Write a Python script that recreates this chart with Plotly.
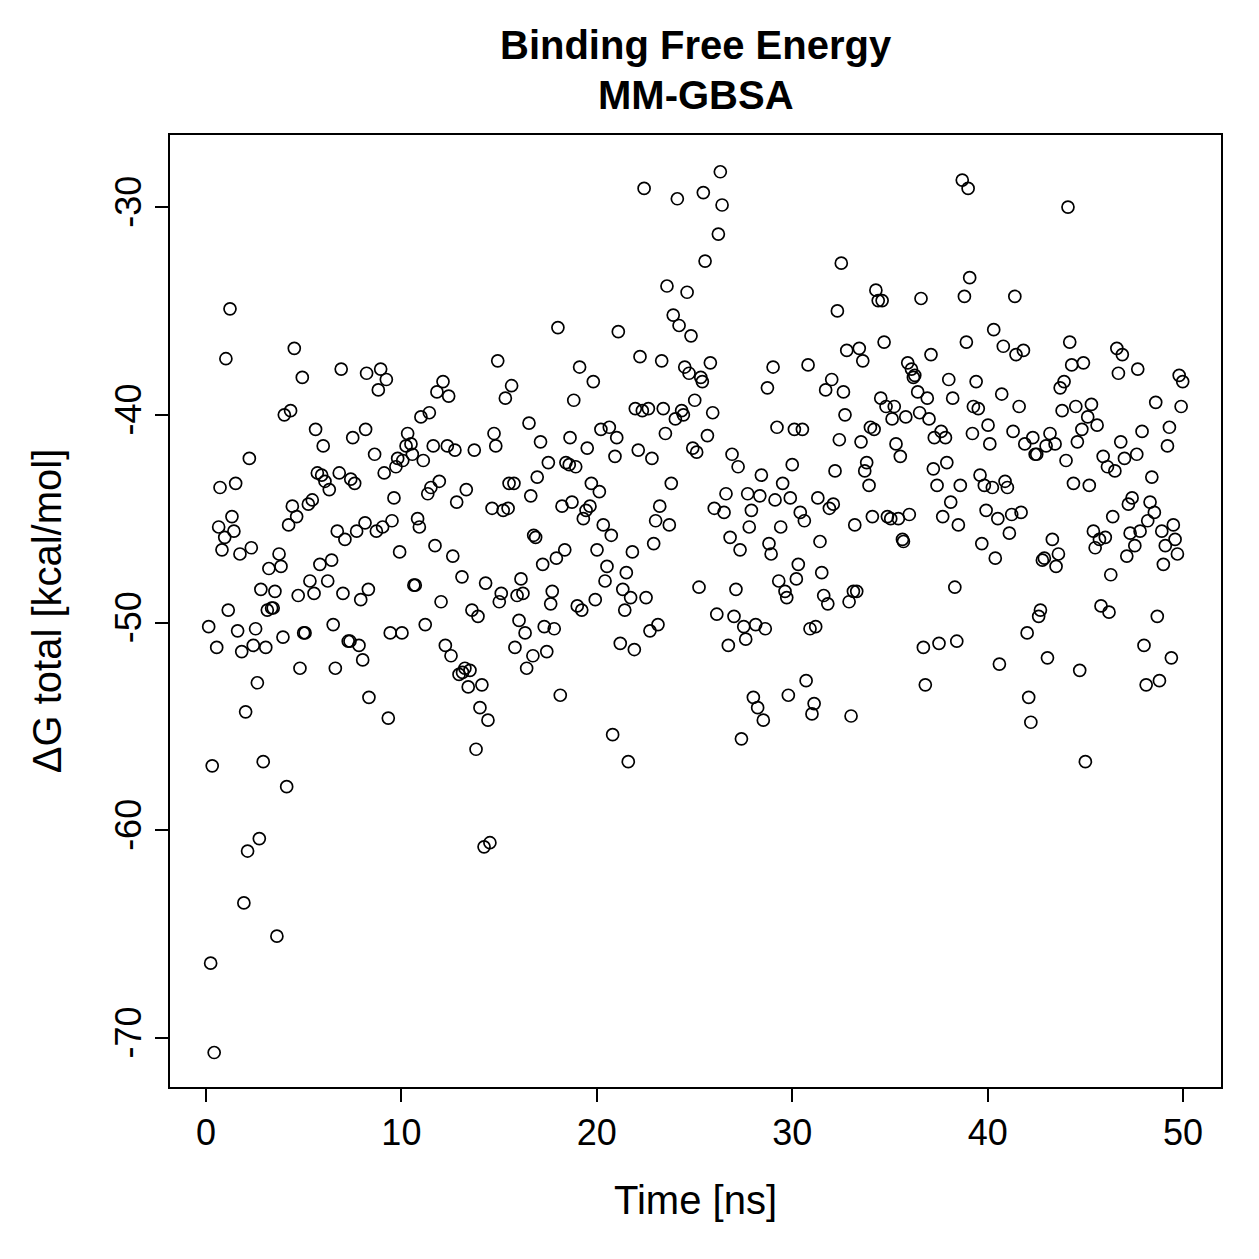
import plotly.graph_objects as go

# ---- data (time in ns, dG in kcal/mol) ----
t_a = [0.14,0.24,0.32,0.42,0.55,0.65,0.72,0.82,0.96,1.02,1.14,1.23,1.33,1.43,1.52,1.62,1.74,1.83,1.94,2.03,
       2.13,2.22,2.32,2.42,2.54,2.63,2.73,2.81,2.93,3.06,3.14,3.22,3.36,3.44,3.53,3.63,3.74,3.84,3.94,4.01,
       4.13,4.23,4.33,4.42,4.52,4.64,4.72,4.81,4.93,5.00,5.07,5.24,5.32,5.44,5.53,5.61,5.70,5.83,5.92,6.00,
       6.09,6.23,6.31,6.43,6.51,6.62,6.72,6.82,6.92,7.01,7.11,7.28,7.37,7.41,7.51,7.61,7.71,7.83,7.92,8.02,
       8.14,8.17,8.22,8.31,8.34]
g_a = [-50.2,-66.4,-56.9,-70.7,-51.2,-45.4,-43.5,-46.5,-45.9,-37.3,-49.4,-34.9,-44.9,-45.6,-43.3,-50.4,-46.7,-51.4,-63.5,-54.3,
       -61.0,-42.1,-46.4,-51.1,-50.3,-52.9,-60.4,-48.4,-56.7,-51.2,-49.4,-47.4,-49.3,-49.3,-48.5,-65.1,-46.7,-47.3,-50.7,-40.0,
       -57.9,-45.3,-39.8,-44.4,-36.8,-44.9,-48.7,-52.2,-38.2,-50.5,-50.5,-44.3,-48.0,-44.1,-48.6,-40.7,-42.8,-47.2,-42.9,-41.5,
       -43.2,-48.0,-43.6,-47.0,-50.1,-52.2,-45.6,-42.8,-37.8,-48.6,-46.0,-50.9,-50.9,-43.1,-41.1,-43.3,-45.6,-51.1,-48.9,-51.8,
       -45.2,-40.7,-38.0,-48.4,-53.6]

t_b = [8.63,8.72,8.82,8.94,9.04,9.12,9.23,9.33,9.43,9.52,9.62,9.72,9.81,9.91,10.03,10.07,10.24,10.32,10.49,10.56,
       10.64,10.71,10.83,10.92,11.00,11.12,11.22,11.35,11.43,11.51,11.63,11.72,11.82,11.94,12.03,12.13,12.25,12.35,12.42,12.54,
       12.63,12.74,12.83,12.95,13.10,13.13,13.25,13.32,13.42,13.51,13.61,13.73,13.82,13.92,14.02,14.12,14.23,14.31,14.43,14.53,
       14.64,14.74,14.83,14.93,15.01,15.11,15.21,15.32,15.46,15.51,15.64,15.76,15.81,15.92,16.02,16.12,16.22,16.33,16.41,16.53,
       16.62,16.73,16.77,16.87,16.95]
g_b = [-41.9,-45.6,-38.8,-37.8,-45.4,-42.8,-38.3,-54.6,-50.5,-45.1,-44.0,-42.5,-42.1,-46.6,-50.5,-42.2,-41.5,-40.9,-41.4,-41.9,
       -48.2,-48.2,-45.0,-45.4,-40.1,-42.2,-50.1,-43.8,-39.9,-43.5,-41.5,-46.3,-38.9,-43.2,-49.0,-38.4,-51.1,-41.5,-39.1,-51.6,
       -46.8,-41.7,-44.2,-52.5,-47.8,-52.4,-52.2,-43.6,-53.1,-52.3,-49.4,-41.7,-56.1,-49.7,-54.1,-53.0,-60.8,-48.1,-54.7,-60.6,
       -44.5,-40.9,-41.5,-37.4,-49.0,-48.6,-44.6,-39.2,-44.5,-43.3,-38.6,-43.3,-51.2,-48.7,-49.9,-47.9,-48.6,-50.5,-52.2,-40.4,
       -43.9,-51.6,-45.8,-45.9,-43.0]

t_c = [17.12,17.23,17.31,17.44,17.52,17.64,17.72,17.82,17.93,18.01,18.13,18.22,18.36,18.42,18.59,18.63,18.73,18.82,18.92,19.00,
       19.12,19.23,19.31,19.45,19.51,19.65,19.72,19.82,19.92,20.01,20.13,20.21,20.33,20.42,20.52,20.64,20.74,20.81,20.93,21.02,
       21.10,21.20,21.33,21.43,21.51,21.61,21.73,21.82,21.92,21.97,22.12,22.21,22.33,22.42,22.52,22.64,22.72,22.82,22.91,23.01,
       23.13,23.22,23.32,23.40,23.51,23.59,23.71,23.81,23.91,24.02,24.12,24.21,24.34,24.43,24.50,24.62,24.72,24.82,24.91,25.01,
       25.11,25.23,25.32,25.40,25.45,25.54,25.66]
g_c = [-41.3,-47.2,-50.2,-51.4,-42.3,-49.1,-48.5,-50.3,-46.9,-35.8,-53.5,-44.4,-46.5,-42.3,-42.4,-41.1,-44.2,-39.3,-42.5,-49.2,
       -37.7,-49.4,-45.0,-44.6,-41.6,-44.4,-43.3,-38.4,-48.9,-46.5,-43.7,-40.7,-45.3,-48.0,-47.3,-40.6,-45.8,-55.4,-42.0,-41.1,
       -36.0,-51.0,-48.4,-49.4,-47.6,-56.7,-48.8,-46.6,-51.3,-39.7,-41.7,-37.2,-39.8,-29.1,-48.8,-39.7,-50.4,-42.1,-46.2,-45.1,
       -50.1,-44.4,-37.4,-39.7,-40.9,-33.8,-45.3,-43.3,-35.2,-40.2,-29.6,-35.7,-39.8,-40.0,-37.7,-34.1,-38.0,-36.2,-41.6,-39.3,
       -41.8,-48.3,-38.2,-38.4,-29.3,-32.6,-41.0]

t_d = [25.81,25.93,26.01,26.14,26.22,26.32,26.41,26.51,26.61,26.73,26.82,26.92,27.02,27.12,27.23,27.33,27.40,27.52,27.62,27.72,
       27.80,27.91,28.01,28.13,28.23,28.34,28.42,28.52,28.62,28.73,28.81,28.92,29.02,29.12,29.22,29.31,29.41,29.51,29.63,29.72,
       29.80,29.90,30.00,30.11,30.21,30.31,30.41,30.52,30.62,30.71,30.81,30.91,31.01,31.12,31.20,31.31,31.42,31.51,31.61,31.71,
       31.82,31.90,32.02,32.10,32.19,32.31,32.41,32.51,32.62,32.70,32.79,32.91,33.01,33.13,33.20,33.30,33.43,33.52,33.61,33.71,
       33.81,33.93,34.00,34.10,34.19,34.28,34.40]
g_d = [-37.5,-39.9,-44.5,-49.6,-31.3,-28.3,-29.9,-44.7,-43.8,-51.1,-45.9,-41.9,-49.7,-48.4,-42.5,-46.5,-55.6,-50.2,-50.8,-43.8,
       -45.4,-44.6,-53.6,-50.1,-54.1,-43.9,-42.9,-54.7,-50.3,-38.7,-46.2,-46.7,-37.7,-44.1,-40.6,-48.0,-45.4,-43.3,-48.5,-48.8,
       -53.5,-44.0,-42.4,-40.7,-47.9,-47.2,-44.7,-40.7,-45.1,-52.8,-37.6,-50.3,-54.4,-53.9,-50.2,-44.0,-46.1,-47.6,-48.7,-38.8,
       -49.1,-44.5,-38.3,-44.3,-42.7,-35.0,-41.2,-32.7,-38.9,-40.0,-36.9,-49.0,-54.5,-48.5,-45.3,-48.5,-36.8,-41.3,-37.4,-42.7,
       -42.3,-43.4,-40.6,-44.9,-40.7,-34.0,-34.5]

t_e = [34.53,34.60,34.70,34.80,34.87,35.04,35.11,35.22,35.31,35.43,35.53,35.64,35.69,35.81,35.91,35.99,36.10,36.20,36.27,36.42,
       36.52,36.59,36.71,36.81,36.91,37.00,37.10,37.22,37.27,37.41,37.51,37.62,37.70,37.84,37.91,38.01,38.11,38.21,38.32,38.42,
       38.50,38.60,38.70,38.81,38.91,39.00,39.08,39.22,39.27,39.41,39.52,39.61,39.70,39.83,39.92,40.02,40.11,40.24,40.31,40.39,
       40.52,40.60,40.72,40.80,40.89,41.01,41.11,41.23,41.30,41.39,41.45,41.61,41.71,41.83,41.90,42.02,42.10,42.21,42.31,42.43,
       42.51,42.61,42.70,42.80,42.90]
g_e = [-39.2,-34.5,-36.5,-39.6,-44.9,-45.0,-40.2,-39.6,-41.4,-45.0,-42.0,-46.0,-46.1,-40.1,-37.5,-44.8,-37.8,-38.2,-38.1,-38.9,
       -39.9,-34.4,-51.2,-53.0,-39.2,-40.2,-37.1,-42.6,-41.1,-43.4,-51.0,-40.8,-44.9,-41.1,-42.3,-38.3,-44.2,-39.2,-48.3,-50.9,
       -45.3,-43.4,-28.7,-34.3,-36.5,-29.1,-33.4,-40.9,-39.6,-38.4,-39.7,-42.9,-46.2,-43.4,-44.6,-40.5,-41.4,-43.5,-35.9,-46.9,
       -45.0,-52.0,-39.0,-36.7,-43.2,-43.5,-45.7,-44.8,-40.8,-34.3,-37.1,-39.6,-44.7,-36.9,-41.4,-50.5,-53.6,-54.8,-41.1,-41.9,
       -41.9,-49.7,-49.4,-47.0,-46.9]

t_f = [42.99,43.06,43.19,43.31,43.45,43.50,43.62,43.71,43.81,43.91,44.01,44.11,44.20,44.30,44.39,44.51,44.59,44.71,44.82,44.90,
       45.00,45.12,45.20,45.31,45.41,45.50,45.60,45.72,45.80,45.91,46.02,46.13,46.21,46.30,46.40,46.51,46.61,46.69,46.81,46.89,
       47.00,47.12,47.20,47.29,47.39,47.53,47.63,47.68,47.80,47.90,48.00,48.11,48.19,48.31,48.40,48.53,48.60,48.68,48.79,48.91,
       48.99,49.09,49.20,49.30,49.40,49.50,49.59,49.71,49.80,49.90,49.98]
g_f = [-41.5,-51.7,-40.9,-46.0,-41.4,-47.3,-46.7,-38.7,-39.8,-38.4,-42.2,-30.0,-36.5,-37.6,-43.3,-39.6,-41.3,-52.3,-40.7,-37.5,
       -56.7,-40.1,-43.4,-39.5,-45.6,-46.4,-40.5,-46.0,-49.2,-42.0,-45.9,-42.5,-49.5,-47.7,-44.9,-42.7,-36.8,-38.0,-41.3,-37.1,
       -42.1,-46.8,-44.3,-45.7,-44.0,-46.3,-41.9,-37.8,-45.6,-40.8,-51.1,-53.0,-45.1,-44.2,-43.0,-44.7,-39.4,-49.7,-52.8,-45.6,
       -47.2,-46.3,-41.5,-40.6,-51.7,-45.3,-46.0,-46.7,-38.1,-39.6,-38.4]

time_ns = t_a + t_b + t_c + t_d + t_e + t_f
dg_total = g_a + g_b + g_c + g_d + g_e + g_f

x_ticks = [0, 10, 20, 30, 40, 50]
x_ticktext = ["0", "10", "20", "30", "40", "50"]
y_ticks = [-70, -60, -50, -40, -30]
y_ticktext = ["-70", "-60", "-50", "-40", "-30"]
title_lines = ["Binding Free Energy", "MM-GBSA"]

FONT = "Liberation Sans, Arial, Helvetica, sans-serif"

fig = go.Figure(
    go.Scatter(
        x=time_ns, y=dg_total, mode="markers",
        marker=dict(symbol="circle-open", size=12, color="black", line=dict(width=1.7)),
        hoverinfo="skip",
    )
)

axis_common = dict(
    showgrid=False, zeroline=False, showline=True, mirror=True,
    linecolor="black", linewidth=2, ticks="outside", ticklen=13, tickwidth=2,
    tickcolor="black", tickfont=dict(family=FONT, size=36, color="black"),
)

fig.update_layout(
    width=1259, height=1259,
    margin=dict(l=170, r=38, t=135, b=172),
    paper_bgcolor="white", plot_bgcolor="white", showlegend=False,
    font=dict(family=FONT, color="black"),
    xaxis=dict(
        range=[-1.84, 51.94], tickmode="array", tickvals=x_ticks, ticktext=x_ticktext,
        title=dict(text="Time [ns]", font=dict(family=FONT, size=40, color="black"), standoff=34),
        **axis_common,
    ),
    yaxis=dict(
        range=[-72.36, -26.53], tickmode="array", tickvals=y_ticks, ticktext=y_ticktext,
        tickangle=-90,
        title=dict(text="ΔG total [kcal/mol]", font=dict(family=FONT, size=40, color="black"), standoff=34),
        **axis_common,
    ),
    annotations=[
        dict(text="<b>%s</b>" % title_lines[0], x=0.5, xref="paper", y=1.0945, yref="paper",
             xanchor="center", yanchor="middle", showarrow=False,
             font=dict(family=FONT, size=40, color="black")),
        dict(text="<b>%s</b>" % title_lines[1], x=0.5, xref="paper", y=1.042, yref="paper",
             xanchor="center", yanchor="middle", showarrow=False,
             font=dict(family=FONT, size=40, color="black")),
    ],
)

fig.write_html("out.html", config={"displayModeBar": False})
